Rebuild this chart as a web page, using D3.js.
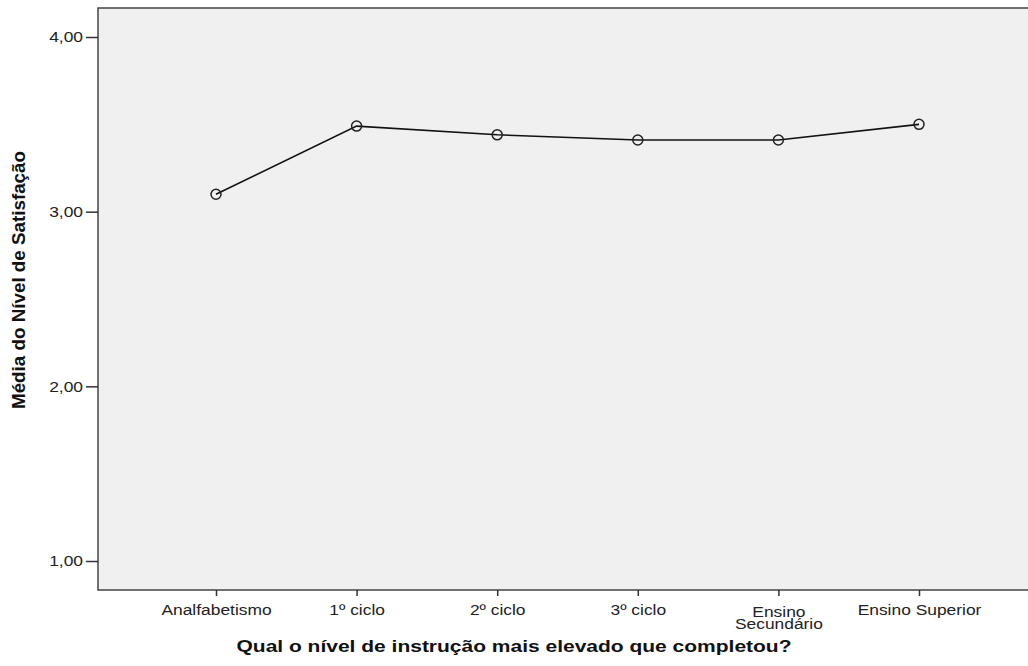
<!DOCTYPE html>
<html><head><meta charset="utf-8">
<script src="https://cdn.jsdelivr.net/npm/d3@7"></script>
<style>body{margin:0;background:#fff}svg{display:block}text{font-family:"Liberation Sans",Arial,sans-serif}</style>
</head><body>
<svg id="c" width="1028" height="666"></svg>
<script>
const categories = ["Analfabetismo","1º ciclo","2º ciclo","3º ciclo","Ensino Secundário","Ensino Superior"];
const categoryLines = [["Analfabetismo"],["1º ciclo"],["2º ciclo"],["3º ciclo"],["Ensino","Secundário"],["Ensino Superior"]];
const meanValues = [3.10, 3.49, 3.44, 3.41, 3.41, 3.50];
const yTicks = [1, 2, 3, 4];
const xTitle = "Qual o nível de instrução mais elevado que completou?";
const yTitle = "Média do Nível de Satisfação";

const svg = d3.select("#c");
const SX = 1.2;
const plot = {left: 98, top: 8, right: 1032, bottom: 590};

const x = d3.scalePoint().domain(categories).range([216, 919]);
const y = d3.scaleLinear().domain([1, 4]).range([561, 37]);

svg.append("rect").attr("x", plot.left).attr("y", plot.top)
  .attr("width", plot.right - plot.left).attr("height", plot.bottom - plot.top)
  .attr("fill", "#f0f0f0").attr("stroke", "#444").attr("stroke-width", 1.5);

// y axis
const ya = svg.append("g").attr("transform", `translate(${plot.left},0)`)
  .call(d3.axisLeft(y).tickValues(yTicks).tickSize(12).tickPadding(3)
    .tickFormat(d => d3.format(".2f")(d).replace(".", ",")));
ya.select(".domain").remove();
ya.selectAll(".tick line").attr("stroke", "#333").attr("stroke-width", 1.5);
ya.selectAll(".tick text").attr("font-size", 14.5).attr("fill", "#222")
  .attr("font-family", "Liberation Sans, Arial, sans-serif")
  .attr("x", null).attr("dy", "0.34em")
  .attr("transform", `translate(-15,0) scale(${SX},1)`);

// x axis
const xa = svg.append("g").attr("transform", `translate(0,${plot.bottom})`)
  .call(d3.axisBottom(x).tickSize(6).tickFormat(""));
xa.select(".domain").remove();
xa.selectAll(".tick line").attr("stroke", "#333").attr("stroke-width", 1.5);
xa.selectAll(".tick").each(function(d, i) {
  const lines = categoryLines[i];
  const t = d3.select(this).append("text")
    .attr("transform", `translate(0,${lines.length > 1 ? 27 : 25}) scale(${SX},1)`)
    .attr("text-anchor", "middle").attr("font-size", 14.5).attr("fill", "#222")
    .attr("font-family", "Liberation Sans, Arial, sans-serif");
  lines.forEach((ln, j) => t.append("tspan").attr("x", 0).attr("y", j * 12).text(ln));
});

// line
svg.append("path").datum(meanValues)
  .attr("fill", "none").attr("stroke", "#111").attr("stroke-width", 1.6)
  .attr("d", d3.line().x((d, i) => x(categories[i])).y(d => y(d)));

svg.selectAll("circle.pt").data(meanValues).join("circle")
  .attr("class", "pt")
  .attr("cx", (d, i) => x(categories[i])).attr("cy", d => y(d))
  .attr("r", 5).attr("fill", "none").attr("stroke", "#222").attr("stroke-width", 1.5);

// titles
svg.append("text").attr("x", 514).attr("y", 652)
  .attr("text-anchor", "middle").attr("font-size", 16).attr("font-weight", "bold")
  .attr("font-family", "DejaVu Sans, Verdana, sans-serif")
  .attr("textLength", 555).attr("lengthAdjust", "spacingAndGlyphs")
  .attr("fill", "#111").text(xTitle);

svg.append("text").attr("transform", `translate(25,280) rotate(-90)`)
  .attr("text-anchor", "middle").attr("font-size", 18).attr("font-weight", "bold")
  .attr("textLength", 258).attr("lengthAdjust", "spacingAndGlyphs")
  .attr("fill", "#111").text(yTitle);
</script>
</body></html>
